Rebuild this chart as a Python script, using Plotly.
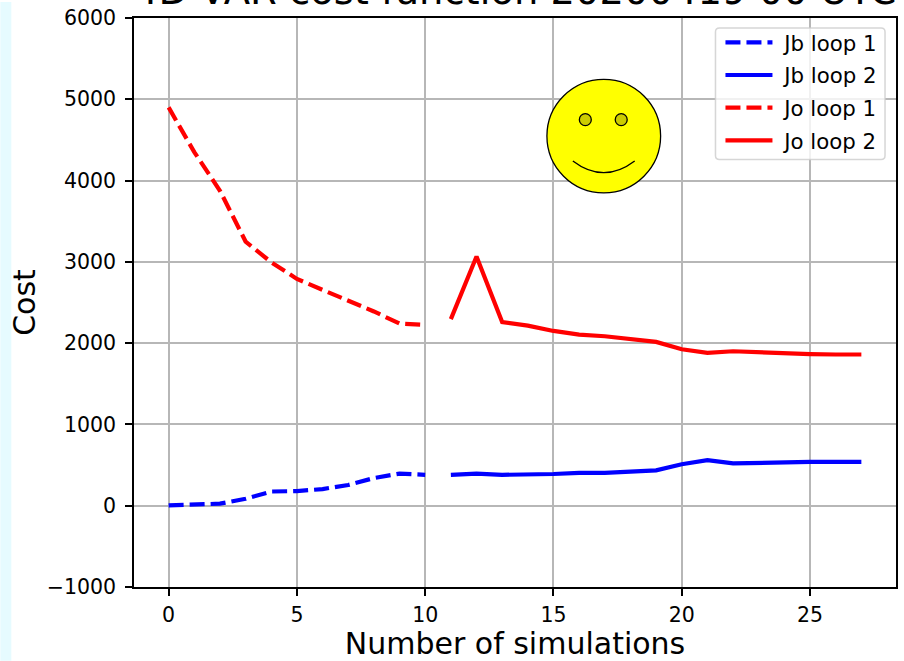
import plotly.graph_objects as go

x_loop1 = list(range(0, 11))
x_loop2 = list(range(11, 28))
jb_loop1 = [5, 10, 25, 85, 175, 180, 205, 255, 340, 395, 380]
jb_loop2 = [380, 395, 380, 380, 390, 405, 405, 420, 435, 510, 560, 520, 530, 535, 540, 540, 540]
jo_loop1 = [4900, 4350, 3875, 3250, 2995, 2790, 2655, 2520, 2390, 2240, 2225]
jo_loop2 = [2295, 3065, 2260, 2215, 2150, 2105, 2085, 2050, 2015, 1925, 1880, 1900, 1885, 1870, 1865, 1860, 1860]
title_text = "4D-VAR cost function 20200419 00 UTC"
x_ticks = [0, 5, 10, 15, 20, 25]
y_ticks = [-1000, 0, 1000, 2000, 3000, 4000, 5000, 6000]

W, H = 904, 661
L, R, T, B = 134, 898, 16, 587
FONT = "DejaVu Sans"
PAD = "\u00a0"

def px(x):
    return (x - L) / (R - L)

def py(y):
    return (B - y) / (B - T)

def circle(cx, cy, r, fill, lw):
    return dict(type="circle", xref="paper", yref="paper", x0=px(cx - r), x1=px(cx + r),
                y0=py(cy + r), y1=py(cy - r), fillcolor=fill, line=dict(color="black", width=lw), layer="above")

def pt(x, y):
    return f"{px(x):.5f},{py(y):.5f}"

lx0, lx1, ly0, ly1, rc = 717, 887, 26, 158, 4
legend_path = (f"M{pt(lx0+rc,ly0)} L{pt(lx1-rc,ly0)} Q{pt(lx1,ly0)} {pt(lx1,ly0+rc)} "
               f"L{pt(lx1,ly1-rc)} Q{pt(lx1,ly1)} {pt(lx1-rc,ly1)} L{pt(lx0+rc,ly1)} "
               f"Q{pt(lx0,ly1)} {pt(lx0,ly1-rc)} L{pt(lx0,ly0+rc)} Q{pt(lx0,ly0)} {pt(lx0+rc,ly0)} Z")

fig = go.Figure()
series = [
    ("Jb loop 1", x_loop1, jb_loop1, "#0000ff", "15px,6px"),
    ("Jb loop 2", x_loop2, jb_loop2, "#0000ff", "solid"),
    ("Jo loop 1", x_loop1, jo_loop1, "#ff0000", "15px,6px"),
    ("Jo loop 2", x_loop2, jo_loop2, "#ff0000", "solid"),
]
for name, xs, ys, color, dash in series:
    fig.add_trace(go.Scatter(x=xs, y=ys, mode="lines", name=PAD + name, legendgroup=name,
                             line=dict(color=color, width=4.2, dash=dash, shape="linear")))

fig.update_layout(
    width=W, height=H, autosize=False,
    margin=dict(l=L, r=W - R, t=T, b=H - B, pad=0),
    paper_bgcolor="white", plot_bgcolor="white",
    font=dict(family=FONT, color="black", size=20),
    showlegend=True,
    legend=dict(x=px(lx0 + 5), y=py(ly0 - 6), xanchor="left", yanchor="top",
                bgcolor="rgba(0,0,0,0)", borderwidth=0, font=dict(size=21.3, family=FONT),
                traceorder="grouped", tracegroupgap=2, itemwidth=47),
    xaxis=dict(range=[-1.35, 28.35], tickmode="array", tickvals=x_ticks, showgrid=True, gridcolor="#b7b7b7",
               gridwidth=1.5, zeroline=False, showline=True, linecolor="black", linewidth=1.5, mirror=True,
               ticks="outside", ticklen=7, tickwidth=1.5, tickcolor="black", tickfont=dict(size=20.5),
               ticklabelstandoff=2,
               title=dict(text="Number of simulations", font=dict(size=30), standoff=5)),
    yaxis=dict(range=[-1000, 6000], tickmode="array", tickvals=y_ticks, showgrid=True, gridcolor="#b7b7b7",
               gridwidth=1.5, zeroline=False, showline=True, linecolor="black", linewidth=1.5, mirror=True,
               ticks="outside", ticklen=7, tickwidth=1.5, tickcolor="black", tickfont=dict(size=20.5),
               ticklabelstandoff=5,
               title=dict(text="Cost", font=dict(size=30), standoff=2)),
    shapes=[
        dict(type="rect", xref="paper", yref="paper", x0=px(0), x1=px(11), y0=py(H), y1=py(0),
             fillcolor="#e6fbff", line=dict(width=0), layer="below"),
        dict(type="path", xref="paper", yref="paper", path=legend_path, fillcolor="rgba(255,255,255,0.8)",
             line=dict(color="rgba(204,204,204,0.8)", width=1.5), layer="above"),
        circle(605, 134.5, 57, "#ffff00", 1.3),
        circle(586.5, 118, 6, "#cccc00", 1.3),
        circle(622.5, 118, 6, "#cccc00", 1.3),
        dict(type="path", xref="paper", yref="paper", path=f"M{pt(574,159.5)} Q{pt(605,183)} {pt(636,159.5)}",
             line=dict(color="black", width=1.3), layer="above"),
    ],
    annotations=[dict(text=title_text, xref="paper", yref="paper", x=0.5, xanchor="center", y=py(7),
                      yanchor="bottom", yshift=-6, showarrow=False, font=dict(size=38.5, family=FONT, color="black"))],
)
fig.write_html("out.html", config={"displayModeBar": False},
               post_script="document.body.style.margin='0';document.body.style.overflow='hidden';")
